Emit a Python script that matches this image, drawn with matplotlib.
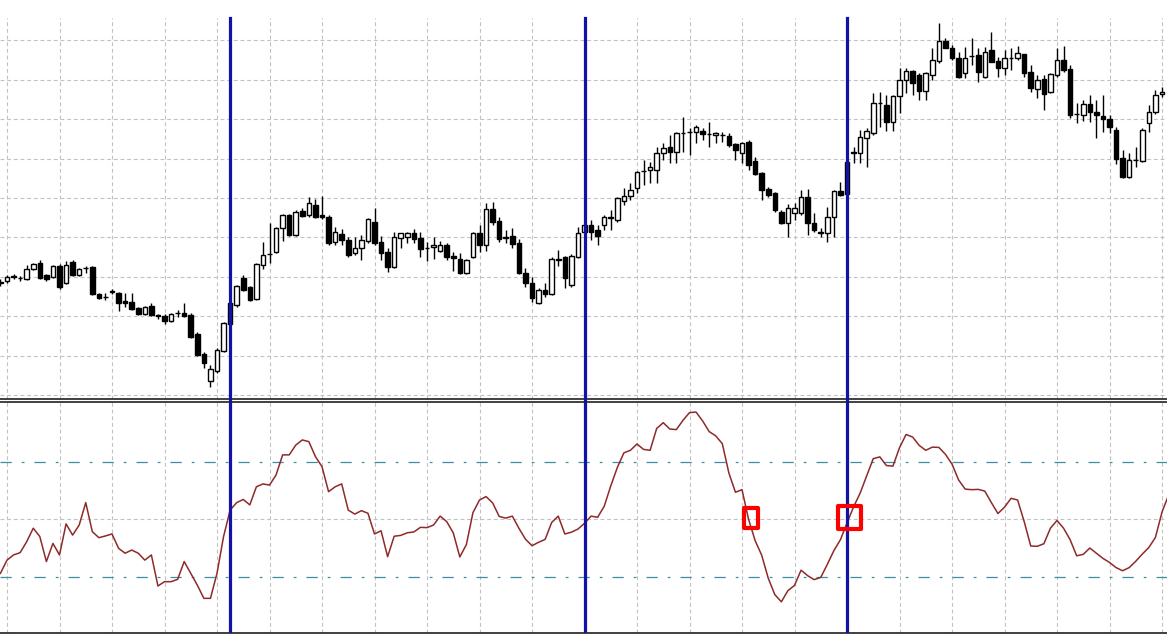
import numpy as np
import matplotlib
matplotlib.use('Agg')
import matplotlib.pyplot as plt
from matplotlib.patches import Rectangle

# price bars (arbitrary price units), first bar is one step left of the first grid line
first_bar = -1

opens = [118, 119, 123, 122, 121, 131, 137, 125, 123, 134, 117, 138, 125, 132, 133, 106, 103, 108, 107, 99,
         98, 92, 86, 94, 85, 84, 79, 87, 87, 85, 66, 46, 19, 29, 49, 76, 95, 122, 113, 101,
         135, 146, 148, 172, 185, 165, 189, 185, 195, 185, 183, 158, 166, 160, 147, 152, 159, 178, 158, 148,
         133, 162, 163, 167, 162, 152, 153, 149, 155, 144, 141, 127, 143, 167, 155, 191, 179, 163, 164, 157,
         127, 117, 97, 110, 106, 141, 143, 115, 143, 168, 175, 170, 175, 182, 180, 199, 204, 212, 229, 230,
         230, 247, 253, 248, 267, 268, 268, 269, 266, 265, 265, 264, 256, 247, 258, 239, 227, 211, 207, 188,
         177, 187, 187, 203, 177, 168, 167, 183, 209, 206, 247, 247, 262, 267, 297, 295, 278, 304, 320, 329,
         325, 309, 325, 339, 359, 352, 342, 327, 344, 345, 323, 350, 339, 332, 342, 342, 346, 328, 311, 321,
         308, 325, 340, 331, 286, 285, 296, 288, 284, 281, 270, 242, 223, 240, 239, 277, 288, 306]
highs = [121, 125, 126, 124, 135, 137, 140, 126, 135, 136, 139, 140, 132, 134, 134, 107, 107, 111, 108, 107,
         107, 93, 94, 97, 86, 86, 87, 90, 97, 87, 68, 48, 35, 52, 78, 98, 115, 125, 114, 137,
         158, 177, 173, 186, 186, 190, 192, 203, 201, 204, 185, 173, 171, 163, 163, 165, 182, 192, 164, 152,
         168, 167, 168, 171, 168, 158, 163, 159, 157, 148, 147, 141, 168, 175, 197, 198, 183, 170, 172, 161,
         132, 123, 112, 117, 143, 150, 144, 146, 173, 176, 180, 175, 185, 190, 203, 212, 217, 229, 240, 238,
         253, 257, 265, 268, 283, 272, 275, 272, 278, 268, 268, 267, 257, 258, 260, 243, 228, 213, 208, 190,
         196, 197, 210, 211, 187, 172, 193, 210, 218, 240, 253, 270, 272, 307, 308, 305, 305, 332, 332, 330,
         327, 328, 352, 377, 362, 355, 348, 353, 362, 352, 353, 368, 343, 350, 352, 354, 346, 335, 325, 325,
         327, 352, 354, 335, 297, 300, 305, 300, 305, 285, 273, 250, 247, 253, 272, 295, 310, 313]
lows = [114, 117, 121, 119, 120, 130, 121, 119, 122, 111, 116, 124, 124, 127, 105, 101, 100, 106, 89, 93,
        90, 85, 85, 84, 81, 76, 78, 83, 83, 62, 44, 32, 13, 27, 48, 75, 93, 109, 99, 100,
        131, 137, 147, 159, 164, 164, 183, 183, 182, 181, 155, 155, 155, 143, 145, 140, 157, 155, 140, 128,
        132, 152, 157, 157, 143, 139, 141, 148, 140, 129, 126, 126, 142, 148, 149, 175, 158, 157, 152, 126,
        113, 98, 96, 103, 105, 134, 112, 113, 142, 167, 160, 155, 170, 170, 178, 195, 200, 207, 215, 217,
        217, 240, 237, 237, 248, 245, 257, 260, 253, 257, 258, 253, 240, 237, 230, 225, 200, 203, 188, 176,
        163, 180, 185, 165, 168, 163, 158, 163, 204, 205, 237, 237, 233, 265, 273, 269, 269, 287, 307, 305,
        300, 300, 320, 337, 352, 340, 322, 322, 335, 318, 322, 338, 323, 325, 330, 340, 323, 308, 302, 290,
        307, 323, 328, 282, 277, 279, 278, 262, 268, 267, 236, 222, 222, 233, 238, 268, 286, 303]
closes = [117, 123, 124, 122, 131, 136, 122, 121, 134, 113, 135, 125, 131, 132, 106, 102, 103, 109, 97, 97,
          91, 86, 93, 85, 84, 79, 86, 87, 84, 63, 45, 37, 31, 50, 77, 97, 114, 110, 100, 136,
          145, 146, 172, 185, 165, 188, 184, 197, 183, 183, 157, 168, 160, 145, 152, 160, 181, 157, 147, 133,
          163, 167, 167, 161, 151, 152, 155, 155, 143, 142, 127, 140, 167, 155, 191, 178, 161, 162, 156, 127,
          117, 102, 110, 106, 141, 140, 122, 144, 167, 175, 168, 164, 183, 183, 202, 204, 210, 228, 229, 233,
          247, 252, 248, 267, 267, 268, 273, 266, 266, 267, 265, 255, 250, 257, 235, 226, 210, 205, 190, 177,
          192, 192, 203, 177, 170, 167, 183, 209, 205, 238, 248, 263, 269, 297, 297, 278, 304, 320, 329, 317,
          309, 327, 340, 359, 352, 342, 323, 342, 344, 328, 348, 338, 332, 342, 342, 347, 327, 312, 320, 306,
          326, 340, 330, 285, 286, 296, 288, 285, 281, 273, 241, 223, 240, 240, 270, 288, 305, 308]

# oscillator, one value per bar (one extra bar past the right edge)
osc = [31.1, 35.7, 37.5, 38.3, 42.1, 46.8, 43.9, 35.2, 41.5, 37.5, 48.3, 44.4, 47.9, 55.7, 45.6, 43.5,
       44.1, 44.8, 39.8, 38.1, 39.2, 38.1, 35.7, 37.5, 26.7, 28.2, 28.2, 29.0, 35.2, 31.1, 27.0, 22.4,
       22.4, 31.1, 43.9, 53.1, 55.7, 56.8, 54.9, 61.2, 62.2, 61.8, 65.3, 72.3, 72.3, 75.7, 77.5, 76.9,
       71.7, 68.2, 59.5, 61.2, 62.2, 53.1, 51.7, 52.9, 52.0, 44.8, 45.9, 36.9, 44.0, 44.3, 45.2, 45.5,
       47.1, 47.0, 47.9, 51.0, 49.1, 45.2, 36.8, 41.1, 52.2, 56.6, 57.8, 55.6, 50.9, 50.3, 51.0, 46.8,
       43.0, 40.7, 41.9, 42.9, 48.8, 51.0, 44.8, 45.4, 46.5, 48.5, 51.0, 50.6, 54.4, 61.5, 67.9, 73.0,
       73.9, 76.1, 74.2, 73.9, 81.5, 83.5, 81.3, 81.1, 84.3, 87.0, 87.2, 84.1, 80.4, 78.9, 76.2, 66.0,
       59.3, 60.2, 49.9, 42.5, 37.4, 29.4, 23.7, 21.2, 25.1, 26.9, 32.2, 30.3, 28.9, 29.7, 34.2, 39.0,
       42.8, 48.6, 54.2, 59.0, 65.0, 71.0, 71.6, 68.6, 68.4, 74.8, 79.4, 78.5, 75.6, 73.9, 75.0, 74.9,
       72.5, 69.1, 63.6, 60.4, 60.2, 60.3, 59.7, 55.7, 51.9, 54.1, 57.2, 56.6, 49.1, 40.6, 40.5, 41.4,
       46.8, 49.5, 46.8, 42.8, 37.2, 37.7, 39.9, 38.1, 36.3, 34.9, 33.1, 32.0, 33.1, 35.3, 37.8, 40.1,
       43.6, 52.4, 58.3]

event_bars = [34, 88, 128]      # vertical blue lines
signal_bars = [113, 128]        # red boxes on the oscillator
osc_levels = [30, 70]
osc_mid = 50

W, H = 1167, 635
fig = plt.figure(figsize=(W / 100, H / 100), dpi=100)
fig.patch.set_facecolor('white')

ax = fig.add_axes([0, (H - 399) / H, 1, (399 - 18) / H])
ax2 = fig.add_axes([0, (H - 633) / H, 1, (633 - 402) / H])

x = np.arange(first_bar, first_bar + len(opens))
xo = np.arange(first_bar, first_bar + len(osc))
o = np.array(opens)
c = np.array(closes)

grid_kw = dict(color='#c2c2c2', linestyle=(0, (3.5, 2.5)), linewidth=0.8)
blue = '#1212a6'

for a in (ax, ax2):
    a.set_xlim(-7 / 6.5625, (W - 7) / 6.5625)
    a.set_xticks(np.arange(0, 177, 8))
    a.tick_params(length=0, labelleft=False, labelbottom=False)
    a.set_axisbelow(True)
    a.grid(True, **grid_kw)
    for s in ('left', 'right', 'top', 'bottom'):
        a.spines[s].set_visible(False)

# candles
ax.set_ylim(1, 382)
ax.set_yticks(5 + 39.4 * np.arange(10))
ax.vlines(x, lows, highs, color='black', linewidth=1.0, zorder=2)
up = c >= o
ax.bar(x[up], (c - o)[up], bottom=o[up], width=0.7, color='white',
       edgecolor='black', linewidth=1.0, zorder=3)
ax.bar(x[~up], (c - o)[~up], bottom=o[~up], width=0.7, color='black',
       edgecolor='black', linewidth=1.0, zorder=3)
ax.spines['bottom'].set_visible(True)
ax.spines['bottom'].set_linewidth(1.2)
ax.spines['bottom'].set_color('#202020')

# oscillator
ax2.set_ylim(50 - (633 - 519) / 2.875, 50 + (519 - 402) / 2.875)
ax2.set_yticks([osc_mid])
ax2.plot(xo, osc, color='#8e2a2a', linewidth=1.1, zorder=3)
for lv in osc_levels:
    ax2.axhline(lv, color='#3f8fa3', linewidth=0.9, dashes=(9, 8, 2.2, 8), zorder=2)
for s in ('top', 'bottom'):
    ax2.spines[s].set_visible(True)
    ax2.spines[s].set_linewidth(1.2)
    ax2.spines[s].set_color('#202020')

for b in event_bars:
    ax.axvline(b, ymin=-0.01, ymax=1, color=blue, linewidth=2.3, zorder=5, clip_on=False)
    ax2.axvline(b, color=blue, linewidth=2.3, zorder=5)

box_sizes = [(2.2, 7.0), (3.4, 8.0)]
for b, (bw, bh) in zip(signal_bars, box_sizes):
    ax2.add_patch(Rectangle((b + 0.4 - bw / 2, osc_mid + 0.5 - bh / 2), bw, bh, fill=False,
                            edgecolor='#ff0000', linewidth=3, joinstyle='round', zorder=6))

fig.savefig('out.png', dpi=100)
